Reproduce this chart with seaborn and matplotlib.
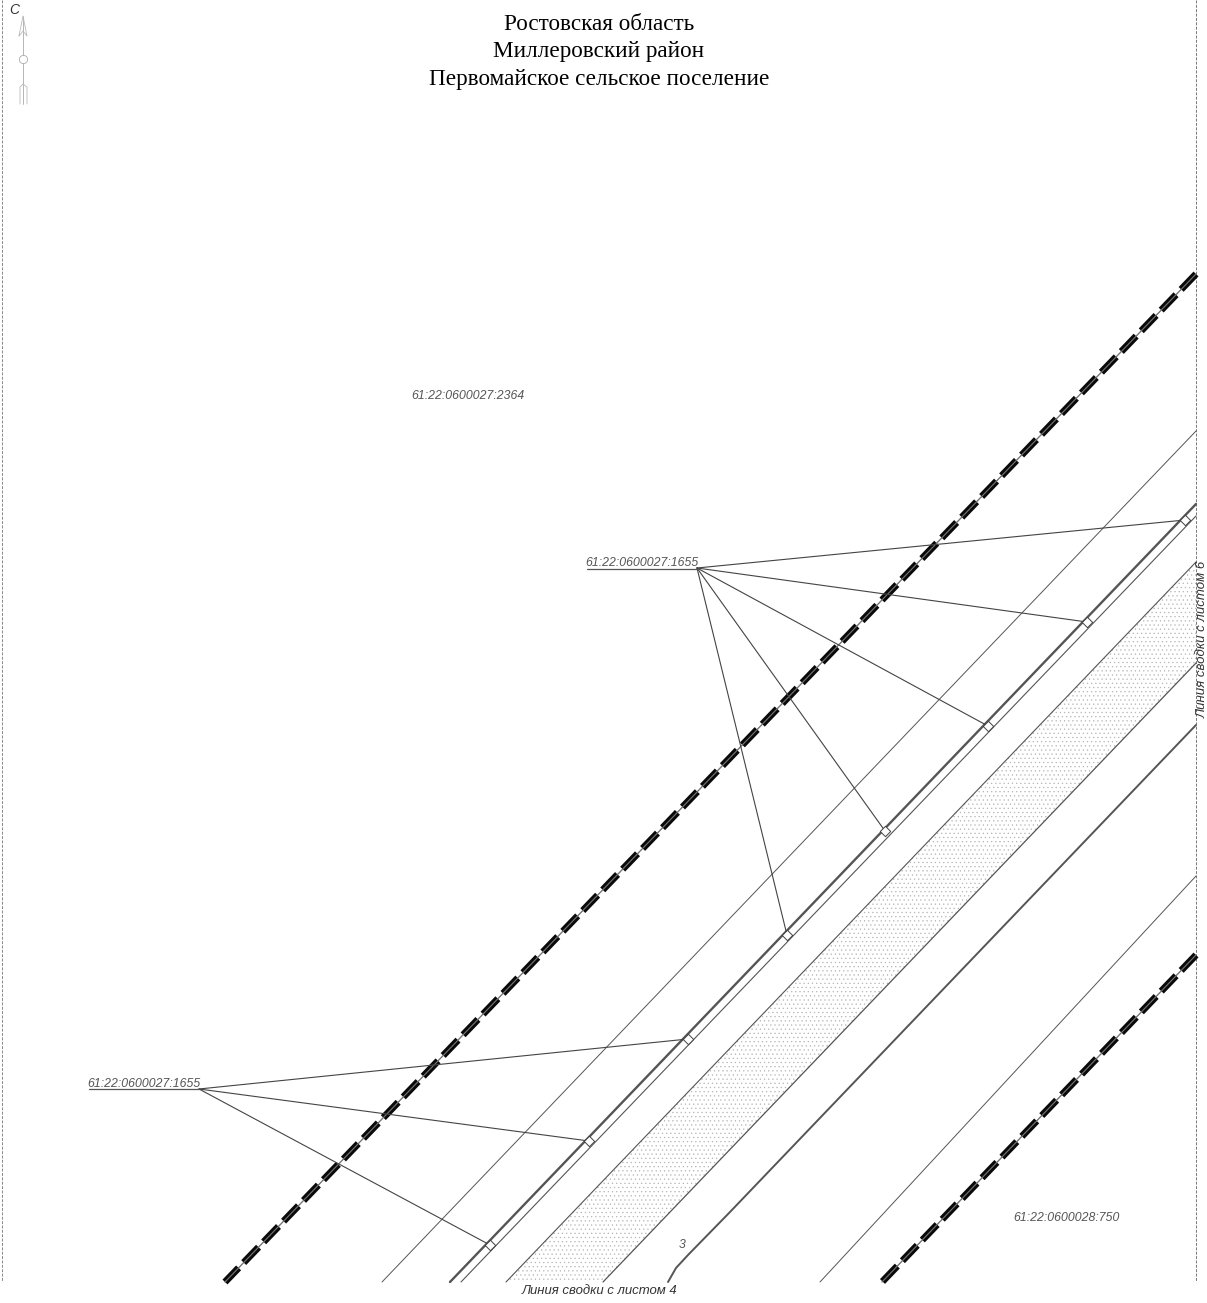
import matplotlib
matplotlib.use('Agg')
import matplotlib.pyplot as plt
import seaborn as sns

# everything in pixel coordinates
title_lines = ['Ростовская область', 'Миллеровский район', 'Первомайское сельское поселение']

road_top_x = [1196, 225]
road_top_y = [274, 1282]
road_low_x = [1196, 882]
road_low_y = [955, 1282]

thin_a_x = [382, 1196]
thin_a_y = [1282, 431]
thin_b_x = [820, 1196]
thin_b_y = [1282, 876]
double_thick_x = [450, 1196]
double_thick_y = [1282, 504]
double_thin_x = [461, 1196]
double_thin_y = [1282, 516]
sand_upper_x = [506, 1196]
sand_upper_y = [1282, 562]
sand_lower_x = [603, 1196]
sand_lower_y = [1282, 663]
ditch_x = [668, 676, 688, 730, 1196]
ditch_y = [1282, 1268, 1255, 1212, 725]

origin_upper = (697, 568)
targets_upper_x = [1185, 1087, 988, 885, 787]
targets_upper_y = [520, 622, 726, 831, 935]
origin_lower = (199, 1089)
targets_lower_x = [688, 589, 490]
targets_lower_y = [1039, 1141, 1245]
underline_upper_x = [587, 697]
underline_upper_y = [569, 569]
underline_lower_x = [89, 199]
underline_lower_y = [1089, 1089]

border_left_x = [2, 2]
border_right_x = [1196, 1196]
border_y = [0, 1282]

arrow_shaft_x = [23, 23]
arrow_shaft_y = [16, 104]
arrow_head_x = [19, 23, 27, 23, 19]
arrow_head_y = [36, 16, 36, 31, 36]
arrow_tail_x = [20, 20, 23, 27, 27]
arrow_tail_y = [104, 87, 84, 87, 104]
arrow_ring_x = [23]
arrow_ring_y = [59]

labels = [
    ('61:22:0600027:2364', 468, 396),
    ('61:22:0600027:1655', 642, 563),
    ('61:22:0600027:1655', 144, 1084),
    ('61:22:0600028:750', 1067, 1218),
]


def draw(ax, xs, ys, color='#555555', lw=0.7, **kw):
    sns.lineplot(x=xs, y=ys, ax=ax, color=color, linewidth=lw, sort=False,
                 estimator=None, legend=False, **kw)


sns.set_theme(style='white')
plt.rcParams['hatch.linewidth'] = 0.4
fig = plt.figure(figsize=(12.07, 13.03), dpi=100)
ax = fig.add_axes([0, 0, 1, 1])

# sand strip
sand_x = sand_upper_x + sand_lower_x[::-1]
sand_y = sand_upper_y + sand_lower_y[::-1]
ax.fill(sand_x, sand_y, facecolor='none', edgecolor='#b5b5b5', linewidth=0, hatch='....')

# sheet frame
draw(ax, border_left_x, border_y, color='#888888', lw=0.7, linestyle=(0, (3, 1.5)))
draw(ax, border_right_x, border_y, color='#777777', lw=0.7, linestyle=(0, (3, 1.5)))

for xs, ys, lw in [
    (thin_a_x, thin_a_y, 0.7),
    (thin_b_x, thin_b_y, 0.7),
    (double_thick_x, double_thick_y, 1.7),
    (double_thin_x, double_thin_y, 0.8),
    (sand_upper_x, sand_upper_y, 0.8),
    (sand_lower_x, sand_lower_y, 0.9),
    (ditch_x, ditch_y, 1.4),
]:
    draw(ax, xs, ys, lw=lw)

# thick dashed boundaries with a light centre line
for xs, ys in [(road_top_x, road_top_y), (road_low_x, road_low_y)]:
    draw(ax, xs, ys, color='#999999', lw=0.8)
    draw(ax, xs, ys, color='#0a0a0a', lw=5, linestyle=(0, (15.4 / 5, 5.3 / 5)),
         dash_capstyle='butt')
    draw(ax, xs, ys, color='#777777', lw=0.8)

# leaders
for origin, txs, tys in [(origin_upper, targets_upper_x, targets_upper_y),
                         (origin_lower, targets_lower_x, targets_lower_y)]:
    for tx, ty in zip(txs, tys):
        draw(ax, [origin[0], tx], [origin[1], ty], color='#444444', lw=0.8)
    sns.scatterplot(x=txs, y=tys, ax=ax, marker='D', s=28, facecolor='white',
                    edgecolor='#444444', linewidth=0.7, zorder=5, legend=False)
draw(ax, underline_upper_x, underline_upper_y, lw=0.9)
draw(ax, underline_lower_x, underline_lower_y, lw=0.9)

# north arrow
draw(ax, arrow_shaft_x, arrow_shaft_y, color='#aaaaaa', lw=0.6)
draw(ax, arrow_head_x, arrow_head_y, color='#bbbbbb', lw=0.6)
draw(ax, arrow_tail_x, arrow_tail_y, color='#bbbbbb', lw=0.6)
sns.scatterplot(x=arrow_ring_x, y=arrow_ring_y, ax=ax, s=35, facecolor='white',
                edgecolor='#aaaaaa', linewidth=0.6, zorder=5, legend=False)

ax.set_xlim(0, 1207)
ax.set_ylim(1303, 0)
ax.set_axis_off()

for text, y in zip(title_lines, [25, 52, 79]):
    ax.text(599, y, text, ha='center', va='center', fontsize=16.7, color='black',
            family='Liberation Serif')

cad = dict(family='Liberation Sans', style='italic', color='#555555', va='center')
dark = {**cad, 'color': '#333333'}
for text, x, y in labels:
    ax.text(x, y, text, ha='center', fontsize=8.8, **cad)
ax.text(682, 1245, '3', ha='center', fontsize=8.8, **cad)
ax.text(14, 10, 'С', ha='center', fontsize=10, **dark)
ax.text(600, 1291, 'Линия сводки с листом 4', ha='center', fontsize=9.45, **dark)
ax.text(1203, 639, 'Линия сводки с листом 6', ha='center', rotation=90, fontsize=9.5, **dark)

fig.savefig('out.png', dpi=100)
